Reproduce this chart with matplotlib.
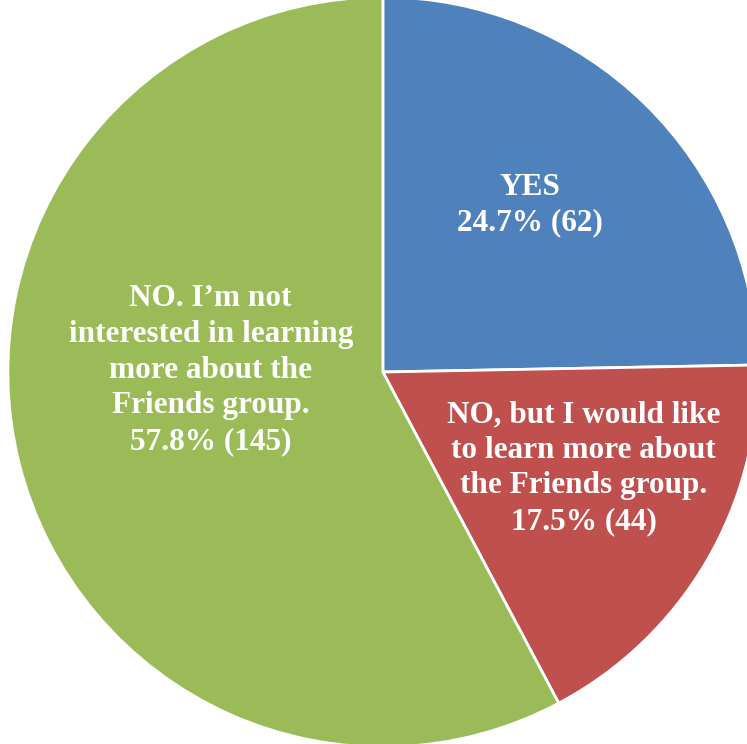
import matplotlib
matplotlib.use("Agg")
from matplotlib import pyplot as plt

labels = ["YES",
          "NO, but I would like\nto learn more about\nthe Friends group.",
          "NO. I\u2019m not\ninterested in learning\nmore about the\nFriends group."]
counts = [62, 44, 145]
pcts = [24.7, 17.5, 57.8]
colors = ["#4F81BD", "#C0504D", "#9BBB59"]
# label centres, in units of the pie radius
label_pos = [(0.392, 0.445), (0.535, -0.256), (-0.459, 0.005)]

fig = plt.figure(figsize=(7.47, 7.44), dpi=100)
ax = fig.add_axes([0, 0, 1, 1])

ax.pie(counts, colors=colors, startangle=90, counterclock=False,
       wedgeprops={"edgecolor": "white", "linewidth": 2})

for lab, n, p, (x, y) in zip(labels, counts, pcts, label_pos):
    ax.text(x, y, "%s\n%.1f%% (%d)" % (lab, p, n), ha="center", va="center",
            color="white", fontsize=22.5, fontweight="bold",
            family="Liberation Serif", linespacing=1.3)

ax.set_xlim(-1.021, 0.971)
ax.set_ylim(-0.992, 0.992)
ax.set_aspect("auto")
ax.axis("off")

plt.savefig("out.png", dpi=100)
